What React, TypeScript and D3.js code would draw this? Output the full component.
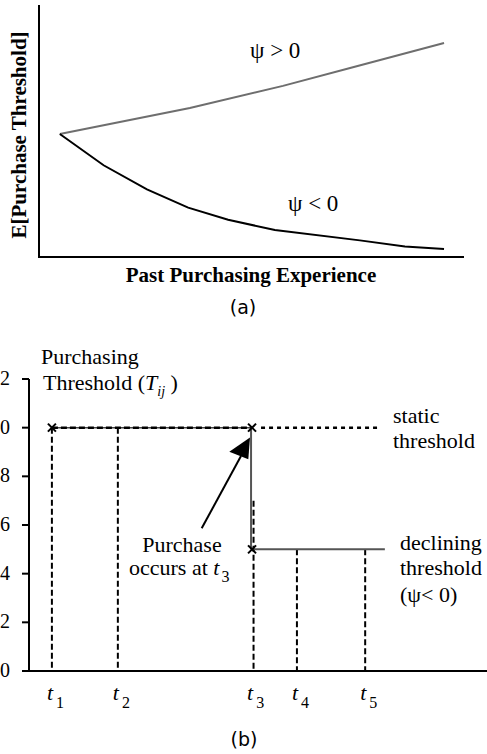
import React from "react";
import * as d3 from "d3";

// ---- Panel (a) data ----
const expUp = [4.9, 35.5, 57.4, 73.2, 95.3];
const thrUp = [48.8, 59.1, 67.9, 75.0, 84.9];
const expDown = [4.9, 15.2, 25.4, 35.1, 44.5, 55.5, 75.5, 86.1, 95.3];
const thrDown = [48.8, 36.4, 26.8, 19.6, 14.8, 10.7, 6.6, 4.2, 3.2];

// ---- Panel (b) data ----
const yTicks = [0, 0.2, 0.4, 0.6, 0.8, 1.0, 1.2];
const yTickLabels = ["0", "0.2", "0.4", "0.6", "0.8", "1.0", "1.2"];
const tNames = ["1", "2", "3", "4", "5"];
const tPos = [5.0, 19.4, 48.7, 58.5, 73.4];
const staticLevel = 1.0;
const decliningLevel = 0.5;
const staticEnd = 76.6;
const decliningEnd = 77.7;
const dashTop = [1.0, 1.0, 0.7, 0.5, 0.5];

const serif = "'Liberation Serif', 'DejaVu Serif', 'Times New Roman', serif";
const sans = "'DejaVu Sans', Verdana, sans-serif";

export default function App() {
  // Panel (a) scales
  const xa = d3.scaleLinear().domain([0, 100]).range([39, 464]);
  const ya = d3.scaleLinear().domain([0, 100]).range([257, 5]);
  const lineA = d3
    .line<[number, number]>()
    .x((d) => xa(d[0]))
    .y((d) => ya(d[1]));
  const upPts = expUp.map((v, i) => [v, thrUp[i]] as [number, number]);
  const downPts = expDown.map((v, i) => [v, thrDown[i]] as [number, number]);

  // Panel (b) scales
  const xb = d3.scaleLinear().domain([0, 100]).range([29, 487]);
  const yb = d3.scaleLinear().domain([0, 1.2]).range([671, 379]);

  const cross = (cx: number, cy: number, k: string) => (
    <g key={k} stroke="#000" strokeWidth={2}>
      <line x1={cx - 4} y1={cy - 4} x2={cx + 4} y2={cy + 4} />
      <line x1={cx - 4} y1={cy + 4} x2={cx + 4} y2={cy - 4} />
    </g>
  );

  const t3x = xb(tPos[2]);

  return (
    <svg
      width={487}
      height={754}
      style={{ position: "absolute", left: 0, top: 0, background: "#fff" }}
    >
      {/* ===== Panel (a) ===== */}
      <line x1={39} y1={5} x2={39} y2={258} stroke="#000" strokeWidth={2} />
      <line x1={38} y1={257} x2={464} y2={257} stroke="#000" strokeWidth={2} />
      <path d={lineA(upPts) || ""} fill="none" stroke="#6e6e6e" strokeWidth={2} />
      <path d={lineA(downPts) || ""} fill="none" stroke="#000" strokeWidth={2} />
      <text
        transform="translate(26,135) rotate(-90)"
        textAnchor="middle"
        fontFamily={serif}
        fontWeight="bold"
        fontSize={21}
      >
        E[Purchase Threshold]
      </text>
      <text x={251} y={282} textAnchor="middle" fontFamily={serif} fontWeight="bold" fontSize={21}>
        Past Purchasing Experience
      </text>
      <text x={250} y={58} fontFamily={serif} fontSize={23}>
        ψ &gt; 0
      </text>
      <text x={288} y={211} fontFamily={serif} fontSize={23}>
        ψ &lt; 0
      </text>
      <text x={243} y={314} textAnchor="middle" fontFamily={sans} fontSize={19}>
        (a)
      </text>

      {/* ===== Panel (b) ===== */}
      {/* y axis */}
      <line x1={29} y1={yb(1.2)} x2={29} y2={yb(0) + 1} stroke="#000" strokeWidth={2} />
      {yTicks.map((v, i) => (
        <g key={"yt" + i}>
          <line x1={22} y1={yb(v)} x2={29} y2={yb(v)} stroke="#000" strokeWidth={2} />
          <text x={10} y={yb(v) + 6} textAnchor="end" fontFamily={serif} fontSize={20}>
            {yTickLabels[i]}
          </text>
        </g>
      ))}
      {/* x axis */}
      <line x1={22} y1={yb(0)} x2={487} y2={yb(0)} stroke="#000" strokeWidth={2} />

      {/* dashed verticals */}
      {tPos.map((t, i) => (
        <line
          key={"dv" + i}
          x1={xb(t) + (i === 2 ? 1.5 : 0)}
          y1={yb(dashTop[i])}
          x2={xb(t) + (i === 2 ? 1.5 : 0)}
          y2={yb(0)}
          stroke="#000"
          strokeWidth={2}
          strokeDasharray="6,3"
        />
      ))}

      {/* static threshold before purchase */}
      <line x1={xb(tPos[0])} y1={yb(staticLevel)} x2={t3x} y2={yb(staticLevel)} stroke="#444" strokeWidth={1.5} />
      <line
        x1={xb(tPos[0])}
        y1={yb(staticLevel)}
        x2={t3x}
        y2={yb(staticLevel)}
        stroke="#000"
        strokeWidth={2.5}
        strokeDasharray="6,3"
      />
      {/* static threshold continuation (dotted) */}
      <line
        x1={t3x + 9}
        y1={yb(staticLevel)}
        x2={xb(staticEnd)}
        y2={yb(staticLevel)}
        stroke="#000"
        strokeWidth={2.5}
        strokeDasharray="4,4"
      />
      {/* drop at purchase */}
      <line x1={t3x - 1} y1={yb(staticLevel)} x2={t3x - 1} y2={yb(decliningLevel)} stroke="#555" strokeWidth={2} />
      {/* declining threshold */}
      <line x1={t3x} y1={yb(decliningLevel)} x2={xb(decliningEnd)} y2={yb(decliningLevel)} stroke="#555" strokeWidth={2} />

      {cross(xb(tPos[0]), yb(staticLevel), "c1")}
      {cross(t3x, yb(staticLevel), "c2")}
      {cross(t3x, yb(decliningLevel), "c3")}

      {/* arrow */}
      <line x1={201.7} y1={528.3} x2={241} y2={456} stroke="#000" strokeWidth={2} />
      <polygon points="250,437.5 229.3,451.7 248.3,459.3" fill="#000" />

      {/* t labels */}
      {tPos.map((t, i) => (
        <text key={"tl" + i} x={xb(t) - 5} y={700} fontFamily={serif} fontSize={22}>
          <tspan fontStyle="italic">t</tspan>
          <tspan fontSize={16} dx={3} dy={8}>
            {tNames[i]}
          </tspan>
        </text>
      ))}

      {/* annotations */}
      <text x={41} y={364} fontFamily={serif} fontSize={22}>
        Purchasing
      </text>
      <text x={43} y={390} fontFamily={serif} fontSize={22}>
        Threshold (<tspan fontStyle="italic">T</tspan>
        <tspan fontStyle="italic" fontSize={14} dy={6}>
          ij
        </tspan>
        <tspan dy={-6}> )</tspan>
      </text>
      <text x={182} y={552} textAnchor="middle" fontFamily={serif} fontSize={22}>
        Purchase
      </text>
      <text x={129} y={575} fontFamily={serif} fontSize={22}>
        occurs at <tspan fontStyle="italic">t</tspan>
        <tspan fontSize={16} dx={2} dy={7}>
          3
        </tspan>
      </text>
      <text x={393} y={423} fontFamily={serif} fontSize={22}>
        static
      </text>
      <text x={393} y={448} fontFamily={serif} fontSize={22}>
        threshold
      </text>
      <text x={400} y={550} fontFamily={serif} fontSize={22}>
        declining
      </text>
      <text x={400} y={575} fontFamily={serif} fontSize={22}>
        threshold
      </text>
      <text x={400} y={602} fontFamily={serif} fontSize={22}>
        (ψ&lt; 0)
      </text>
      <text x={244} y={746} textAnchor="middle" fontFamily={sans} fontSize={19}>
        (b)
      </text>
    </svg>
  );
}
